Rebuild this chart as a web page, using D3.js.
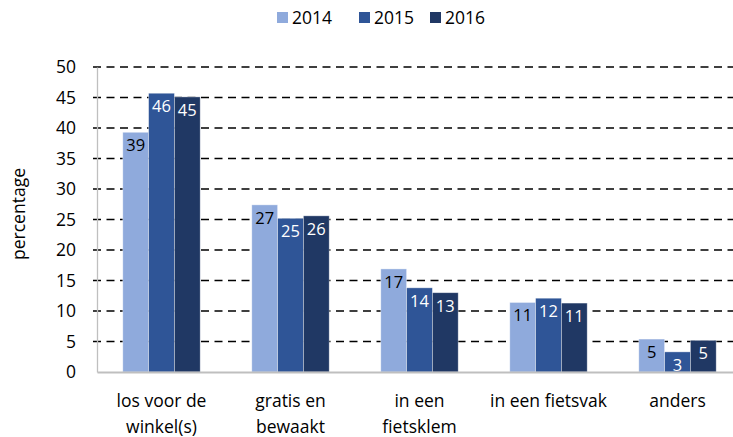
<!DOCTYPE html>
<html><head><meta charset="utf-8">
<script src="https://cdn.jsdelivr.net/npm/d3@7"></script>
<style>body{margin:0;background:#fff}svg{display:block;font-family:"Open Sans",sans-serif}</style>
</head><body>
<svg id="c" width="733" height="437"></svg>
<script>
const categories = [["los voor de","winkel(s)"],["gratis en","bewaakt"],["in een","fietsklem"],["in een fietsvak"],["anders"]];
const seriesNames = ["2014","2015","2016"];
const v2014 = [39.3, 27.4, 16.9, 11.4, 5.4];
const v2015 = [45.7, 25.2, 13.8, 12.1, 3.3];
const v2016 = [45.1, 25.6, 13.0, 11.3, 5.2];
const yTicks = [0,5,10,15,20,25,30,35,40,45,50];
const colors = ["#8faadc","#2f5597","#203864"];
const labelColors = ["#000","#fff","#fff"];
const series = [v2014, v2015, v2016];

const svg = d3.select("#c");
const pLeft = 97, pRight = 742, pTop = 67, pBottom = 372;
const x0 = d3.scaleBand().domain(d3.range(categories.length)).range([pLeft, pRight]).paddingInner(0.4).paddingOuter(0.2);
const x1 = d3.scaleBand().domain(d3.range(seriesNames.length)).range([0, x0.bandwidth()]);
const y = d3.scaleLinear().domain([0,50]).range([pBottom, pTop]);

// gridlines
svg.append("g").selectAll("line").data(yTicks.filter(d=>d>0)).join("line")
  .attr("x1", pLeft-4).attr("x2", 733).attr("y1", d=>y(d)).attr("y2", d=>y(d))
  .attr("stroke","#000").attr("stroke-width",1.6).attr("stroke-dasharray","8,5.5");

// y axis
const yAxis = svg.append("g").attr("transform",`translate(${pLeft},0)`)
  .call(d3.axisLeft(y).tickValues(yTicks).tickSize(0).tickPadding(21));
yAxis.select(".domain").attr("stroke","#bfbfbf").attr("stroke-width",1.3);
yAxis.selectAll("text").attr("font-size",17.5).attr("fill","#000").attr("font-family","Open Sans");

// bars
const g = svg.append("g");
series.forEach((vals, si) => {
  g.append("g").selectAll("rect").data(vals).join("rect")
    .attr("x", (d,i)=>x0(i)+x1(si)).attr("width", x1.bandwidth())
    .attr("y", d=>y(d)).attr("height", d=>pBottom-y(d))
    .attr("fill", colors[si]).attr("stroke","#fff").attr("stroke-opacity",0.5).attr("stroke-width",0.75);
  g.append("g").selectAll("text").data(vals).join("text")
    .attr("x", (d,i)=>x0(i)+x1(si)+x1.bandwidth()/2).attr("y", d=>y(d)+19)
    .attr("text-anchor","middle").attr("font-size",16.5).attr("fill",labelColors[si])
    .text(d=>Math.round(d));
});

// x axis
const xAxis = svg.append("g").attr("transform",`translate(0,${pBottom})`)
  .call(d3.axisBottom(x0).tickSize(0).tickFormat(""));
xAxis.select(".domain").attr("stroke","#bfbfbf").attr("stroke-width",2);

// category labels
const cl = svg.append("g").selectAll("text").data(categories).join("text")
  .attr("x",(d,i)=>x0(i)+x0.bandwidth()/2).attr("y",407)
  .attr("text-anchor","middle").attr("font-size",17.5).attr("fill","#000");
cl.selectAll("tspan").data(d=>d).join("tspan")
  .attr("x", function(){return this.parentNode.getAttribute("x");})
  .attr("dy",(d,i)=>i===0?0:26).text(d=>d);

// y label
svg.append("text").attr("transform","translate(25,214) rotate(-90)")
  .attr("text-anchor","middle").attr("font-size",17.5).attr("fill","#000").text("percentage");

// legend
const lx = [277, 359, 430];
const leg = svg.append("g").selectAll("g").data(seriesNames).join("g")
  .attr("transform",(d,i)=>`translate(${lx[i]},0)`);
leg.append("rect").attr("x",0).attr("y",12).attr("width",11).attr("height",11).attr("fill",(d,i)=>colors[i]);
leg.append("text").attr("x",15).attr("y",24).attr("font-size",17.5).attr("fill","#000").text(d=>d);
</script>
</body></html>
